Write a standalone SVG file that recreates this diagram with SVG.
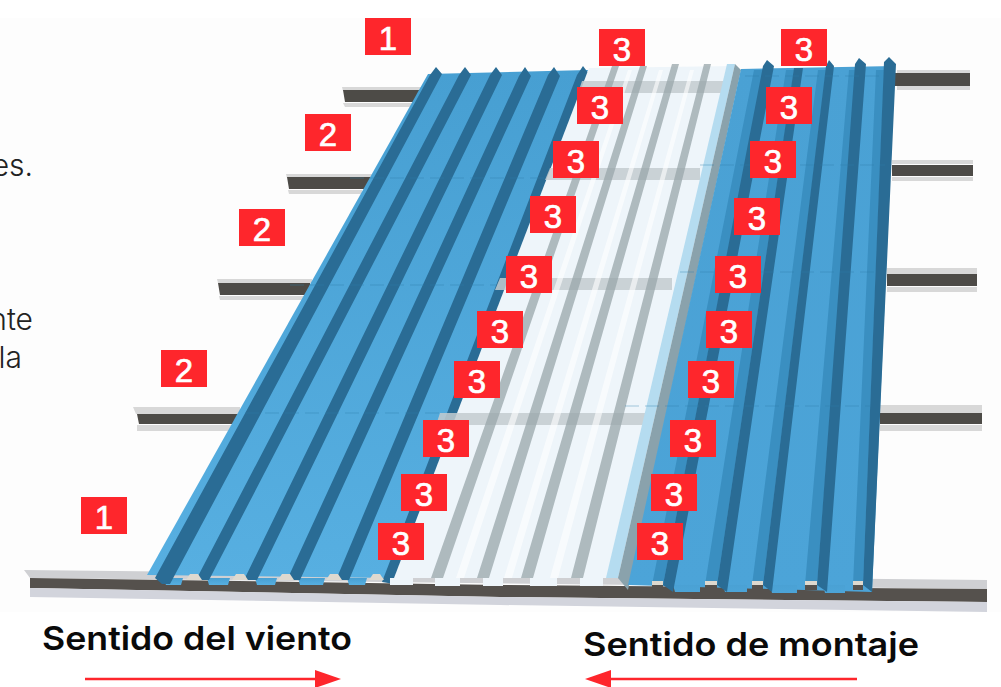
<svg xmlns="http://www.w3.org/2000/svg" width="1001" height="687" viewBox="0 0 1001 687">
<style>
.badge{fill:#fe262c}
.num{font-family:"Liberation Sans",Arial,sans-serif;font-size:33px;fill:#fff;stroke:#fff;stroke-width:.7;text-anchor:middle}
.dark{fill:#2a6c95}
.mid{fill:#3a8fc1}
.pur{fill:#4d4b47}
.edge{fill:#d8d8d8}
.rib{fill:#98a5aa;fill-opacity:.75}
.band{fill:#c3cbcf;fill-opacity:.85}
.cap{fill:#ded9cf}
.lite{fill:#eef5fa}
.note{font-family:Inter,"Liberation Sans",sans-serif;font-weight:300;font-size:30px;fill:#222;text-anchor:end}
.head{font-family:Inter,"Liberation Sans",sans-serif;font-weight:600;font-size:33px;fill:#0a0a0a}
.seam{stroke:#2f7eaa;stroke-width:1;fill:none;stroke-dasharray:14 6;opacity:.4}
</style>
<defs>
<linearGradient id="blueL" x1="0" y1="0" x2="0" y2="1"><stop offset="0" stop-color="#479fd2"/><stop offset="1" stop-color="#57afe1"/></linearGradient>
<linearGradient id="blueR" x1="0" y1="0" x2="0" y2="1"><stop offset="0" stop-color="#4aa1d4"/><stop offset="1" stop-color="#4ca4d8"/></linearGradient>
<marker id="tip" markerUnits="userSpaceOnUse" markerWidth="26" markerHeight="18" refX="0" refY="9" orient="auto"><path d="M0 0L26 9L0 18Z" fill="#fe262c"/></marker>
</defs>
<rect width="1001" height="687" fill="#fff"/>
<rect y="18" width="1001" height="594" fill="#fdfdfd"/>

<!-- purlins -->
<path class="edge" d="M342 87H430V91H343ZM343 103H420V107H345ZM286 174H372V178H287ZM288 190H362V194H289ZM217 279H312V283H218ZM219 296H305V300H220ZM133 407H240V414H136ZM137 425H232V431H137ZM897 70H970V73H897ZM897 86H970V90H897ZM892 160H973V164H892ZM892 177H973V181H892ZM887 268H977V274H887ZM887 287H977V292H887ZM880 405H982V413H880ZM880 425H982V431H880Z"/>
<path class="pur" d="M343 90H425V102H345ZM287 177H372V189H289ZM218 283H310V295H220ZM137 414H240V424H139ZM895 73H970V86H895ZM892 165H973V176H892ZM887 274H977V286H887ZM880 413H982V424H880Z"/>
<path d="M24 570L987 580V589L30 578Z" fill="#cfd0d3"/>
<path d="M30 578L500 585L987 589V602L500 597L30 588Z" fill="#55514d"/>
<path d="M30 588L500 597L987 602V612L500 605L30 597Z" fill="#d2d4dc"/>

<!-- left panel -->
<path fill="url(#blueL)" d="M428 74L588 70L394 578L147 575Z"/>
<path fill="url(#blueL)" d="M163 578H183L181 585H166ZM207 578H230L228 585H209ZM255 578H277L275 585H257ZM298 578H325L323 585H300ZM347 578H367L365 585H349Z"/>
<path class="dark" d="M430 75L436 67L442 74L170 584L162 584L155 578ZM459 75L465 67L471 75L209 580L196 580ZM490 75L496 67L502 75L257 580L244 580ZM519 76L525 67L531 76L300 580L287 580ZM548 75L554 67L560 76L349 580L336 580ZM577 75L583 66L589 74L394 584L382 582Z"/>
<path class="seam" d="M350 178H560M290 285H520M245 413H440"/>
<path class="cap" d="M186 580L190 574H198L202 580ZM232 580L236 574H244L248 580ZM278 580L282 574H290L294 580ZM326 580L330 574H338L342 580ZM369 580L373 574H380L384 580Z"/>

<!-- translucent panel -->
<path class="lite" d="M589 68L735 66L618 578L394 578Z"/>
<path class="lite" d="M413 578H390V585H413ZM460 578H435V586H460ZM503 578H483V586H503ZM557 578H530V586H557ZM603 578H580V586H603Z"/>
<path class="band" d="M582 81H725V93H578ZM550 168H700V180H545ZM500 278H672V290H495ZM440 413H645V425H436Z"/>
<path class="rib" d="M612 66H619L443 578H431ZM640 66H647L489 578H477ZM672 64H679L533 578H521ZM704 64H711L583 578H571Z"/>
<path fill="#fff" fill-opacity=".6" d="M628 70H632L464 578H456ZM659 70H663L512 578H504ZM690 70H694L558 578H550Z"/>

<!-- overlap strip -->
<path d="M727 64L735 64L618 578H606Z" fill="#b5dcf0"/>
<path d="M735 64L741 70L628 590L618 578Z" fill="#8aa2ac"/>

<!-- right panel -->
<path fill="url(#blueR)" d="M741 69L895 66L872 592L628 585Z"/>
<path fill="url(#blueR)" d="M673 585H700V592H675ZM723 585H747V592H725ZM770 585H797V593H772ZM823 585H845V593H825Z"/>
<path class="mid" d="M754 70H763L663 585H652ZM786 70H794L717 585H705ZM818 70H826L763 585H752ZM849 70H856L817 585H805ZM876 70H884L863 585H853Z"/>
<path class="dark" d="M763 66L767 60L774 66L673 592L663 585ZM794 68H803L727 592L717 585ZM826 66L829 60L834 66L772 592L763 585ZM855 64L859 58L866 64L827 592L817 585ZM884 62L889 57L896 64L872 592L863 585Z"/>
<path class="seam" d="M745 76H880M700 165H885M680 272H880M625 406H870"/>
<path d="M652 585H663V590H652ZM705 585H717V590H705ZM752 585H763V590H752ZM805 585H817V590H805ZM853 585H863V590H853Z" fill="#55514d"/>
<path class="cap" d="M652 581H663V585H652ZM705 581H717V585H705ZM752 581H763V585H752ZM805 581H817V585H805ZM853 581H863V585H853Z"/>

<!-- paragraph text, cut by the picture edge as in the reference -->
<text class="note" x="33" y="176">es.</text>
<text class="note" x="33" y="330">nte</text>
<text class="note" x="22" y="368">la</text>

<text class="head" x="42" y="650" textLength="310" lengthAdjust="spacingAndGlyphs">Sentido del viento</text>
<text class="head" x="583" y="656" textLength="336" lengthAdjust="spacingAndGlyphs">Sentido de montaje</text>

<g id="connectors" fill="none" stroke="#fe262c" stroke-width="2.5">
<line x1="85" y1="679" x2="315" y2="679" marker-end="url(#tip)"/>
<line x1="857" y1="679" x2="611" y2="679" marker-end="url(#tip)"/>
</g>

<g id="n1a"><rect class="badge" x="365" y="18" width="46" height="37"/><text class="num" x="388" y="50">1</text></g>
<g id="n2a"><rect class="badge" x="305" y="114" width="46" height="37"/><text class="num" x="328" y="146">2</text></g>
<g id="n2b"><rect class="badge" x="239" y="209" width="46" height="37"/><text class="num" x="262" y="241">2</text></g>
<g id="n2c"><rect class="badge" x="161" y="350" width="46" height="37"/><text class="num" x="184" y="382">2</text></g>
<g id="n1b"><rect class="badge" x="81" y="497" width="46" height="37"/><text class="num" x="104" y="529">1</text></g>

<g id="l1"><rect class="badge" x="599" y="29" width="46" height="37"/><text class="num" x="622" y="61">3</text></g>
<g id="l2"><rect class="badge" x="577" y="87" width="46" height="37"/><text class="num" x="600" y="119">3</text></g>
<g id="l3"><rect class="badge" x="553" y="141" width="46" height="37"/><text class="num" x="576" y="173">3</text></g>
<g id="l4"><rect class="badge" x="530" y="196" width="46" height="37"/><text class="num" x="553" y="228">3</text></g>
<g id="l5"><rect class="badge" x="506" y="256" width="46" height="37"/><text class="num" x="529" y="288">3</text></g>
<g id="l6"><rect class="badge" x="477" y="311" width="46" height="37"/><text class="num" x="500" y="343">3</text></g>
<g id="l7"><rect class="badge" x="454" y="361" width="46" height="37"/><text class="num" x="477" y="393">3</text></g>
<g id="l8"><rect class="badge" x="423" y="420" width="46" height="37"/><text class="num" x="446" y="452">3</text></g>
<g id="l9"><rect class="badge" x="401" y="474" width="46" height="37"/><text class="num" x="424" y="506">3</text></g>
<g id="l10"><rect class="badge" x="378" y="523" width="46" height="37"/><text class="num" x="401" y="555">3</text></g>

<g id="r1"><rect class="badge" x="781" y="29" width="46" height="37"/><text class="num" x="804" y="61">3</text></g>
<g id="r2"><rect class="badge" x="766" y="87" width="46" height="37"/><text class="num" x="789" y="119">3</text></g>
<g id="r3"><rect class="badge" x="750" y="141" width="46" height="37"/><text class="num" x="773" y="173">3</text></g>
<g id="r4"><rect class="badge" x="734" y="198" width="46" height="37"/><text class="num" x="757" y="230">3</text></g>
<g id="r5"><rect class="badge" x="715" y="256" width="46" height="37"/><text class="num" x="738" y="288">3</text></g>
<g id="r6"><rect class="badge" x="706" y="311" width="46" height="37"/><text class="num" x="729" y="343">3</text></g>
<g id="r7"><rect class="badge" x="688" y="361" width="46" height="37"/><text class="num" x="711" y="393">3</text></g>
<g id="r8"><rect class="badge" x="670" y="420" width="46" height="37"/><text class="num" x="693" y="452">3</text></g>
<g id="r9"><rect class="badge" x="651" y="474" width="46" height="37"/><text class="num" x="674" y="506">3</text></g>
<g id="r10"><rect class="badge" x="637" y="523" width="46" height="37"/><text class="num" x="660" y="555">3</text></g>
</svg>
